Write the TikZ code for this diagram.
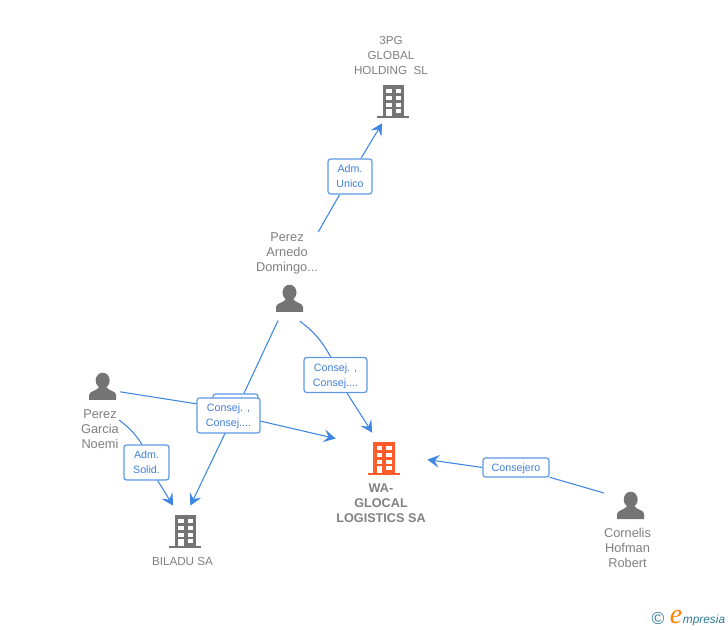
\documentclass[tikz,border=0pt]{standalone}
\usepackage{fontspec}
\setmainfont{Liberation Sans}
\usetikzlibrary{arrows.meta}
\definecolor{linkblue}{HTML}{3F86E2}
\definecolor{textblue}{HTML}{3F7FDC}
\definecolor{namegray}{HTML}{808080}
\definecolor{icongray}{HTML}{747474}
\definecolor{iconred}{HTML}{FF5B2B}
\definecolor{marklogo}{HTML}{2F7A96}
\tikzset{
	linkto/.style={draw=linkblue, line width=0.8pt},
	linkarrow/.style={linkto, -{Stealth[length=9pt, width=9.5pt, inset=3.5pt]}},
	tagbox/.style={draw=linkblue!85, line width=0.9pt, rounded corners=2pt, fill=white, inner sep=0pt, align=center, text=textblue, text depth=0pt, font=\fontsize{8}{11.25}\selectfont},
	anchorbox/.style={inner sep=0pt, minimum width=#1},
	personname/.style={inner sep=0pt, align=center, text=namegray, font=\fontsize{9.6}{11.25}\selectfont},
	firmname/.style={inner sep=0pt, align=center, text=namegray, font=\fontsize{8.75}{11.25}\selectfont},
	person/.pic={
		\fill[pic actions] (0,7.5) ellipse (7 and 7.8);
		\fill[pic actions] (-13.5,27) -- (-13.5,22) .. controls (-13.5,18) and (-6,18) .. (-3.5,14) -- (3.5,14) .. controls (6,18) and (13.5,18) .. (13.5,22) -- (13.5,27) -- cycle;
	},
	building/.pic={
		\fill[pic actions] (-16,-2) rectangle (16,0);
		\fill[pic actions] (-10.5,-33) rectangle (11,-1);
		\foreach \rowy in {-29,-22,-15} {
			\fill[white] (-7,\rowy) rectangle (-1.5,\rowy+4);
			\fill[white] (2.5,\rowy) rectangle (8,\rowy+4);
		}
		\fill[white] (-7,-9) rectangle (-1.5,-2);
		\fill[white] (2.5,-9) rectangle (8,-5);
	},
}

\begin{document}
\begin{tikzpicture}[x=0.75pt, y=-0.75pt]
	%%%%% FRAME %%%%%
	\useasboundingbox (0,0) rectangle (728,630);

	%%%%% COMPANIES %%%%%
	\node[firmname] (holdingname) at (391,55) {3PG\\GLOBAL\\HOLDING\ \ SL};
	\pic[fill=icongray] at (393,118) {building};
	\node[anchorbox=30pt, minimum height=34.5pt] (holding) at (393,100) {};

	\node[firmname, font=\bfseries\fontsize{9.5}{11.25}\selectfont] (glocalname) at (381,503) {WA-\\GLOCAL\\LOGISTICS SA};
	\pic[fill=iconred] at (383.5,475) {building};
	\node[anchorbox=68.25pt, minimum height=37.5pt] (glocal) at (381.5,458) {};

	\node[firmname] (biladuname) at (182.5,561) {BILADU SA};
	\pic[fill=icongray] at (185,548) {building};
	\node[anchorbox=33pt, minimum height=37.5pt] (biladu) at (185,531) {};

	%%%%% PERSONS %%%%%
	\node[personname] (arnedoname) at (287,253) {Perez\\Arnedo\\Domingo...};
	\pic[fill=icongray] at (289.5,285) {person};
	\node[circle, anchorbox=37.5pt] (arnedo) at (289.5,298) {};

	\node[personname] (garcianame) at (100,429) {Perez\\Garcia\\Noemi};
	\pic[fill=icongray] at (102.7,373) {person};
	\node[circle, anchorbox=27pt] (garcia) at (102.7,386.5) {};

	\node[personname] (hofmanname) at (627.5,548) {Cornelis\\Hofman\\Robert};
	\pic[fill=icongray] at (630.7,492) {person};
	\node[circle, anchorbox=44pt] (hofman) at (630.7,505.5) {};

	%%%%% LINKS %%%%%
	\node[tagbox, minimum width=33pt, minimum height=26.25pt] (unico) at (350,176.5) {Adm.\\Unico};
	\draw[linkto] (arnedoname.north east) -- (unico);
	\draw[linkarrow] (unico) -- (holding.-115.6);

	\node[tagbox, minimum width=47.25pt, minimum height=26.25pt] (consejb) at (335.5,375) {Consej. ,\\Consej....};
	\draw[linkto] (arnedo.-66.6) to[bend left=12] (consejb.105);
	\draw[linkarrow] (consejb) -- (glocal.110.8);

	\node[tagbox, minimum width=33.75pt, minimum height=26.25pt] (consejback) at (235.5,411.5) {};
	\draw[linkto] (arnedo.-117.6) -- (consejback);
	\draw[linkarrow] (consejback) -- (biladu.78.7);

	\node[tagbox, minimum width=47.25pt, minimum height=26.25pt] (consejc) at (228.5,415.5) {Consej. ,\\Consej....};
	\draw[linkto] (garcia.-17.6) -- (consejc.160);
	\draw[linkarrow] (consejc.-10) -- (glocal.157.3);

	\node[tagbox, minimum width=33.75pt, minimum height=26.25pt] (solid) at (146.5,462.5) {Adm.\\Solid.};
	\draw[linkto] (garcianame.25) to[bend left=10] (solid.104);
	\draw[linkarrow] (solid) -- (biladu.115.6);

	\node[tagbox, minimum width=49.5pt, minimum height=14.25pt] (consejero) at (516,467.5) {Consejero};
	\draw[linkto] (hofman.155) -- (consejero);
	\draw[linkarrow] (consejero.west) -- (glocal.-2.5);

	%%%%% MARK %%%%%
	\node[inner sep=0pt, text=marklogo, font=\fontsize{13}{13}\selectfont] (markc) at (658,619) {\textcopyright};
	\node[inner sep=0pt, text=orange, font=\itshape\fontsize{21}{21}\selectfont] (marke) at (676,617) {\fontspec{Liberation Serif}e};
	\node[inner sep=0pt, text=marklogo, font=\itshape\fontsize{8.9}{10}\selectfont] (markname) at (704,620) {mpresia};
\end{tikzpicture}
\end{document}
